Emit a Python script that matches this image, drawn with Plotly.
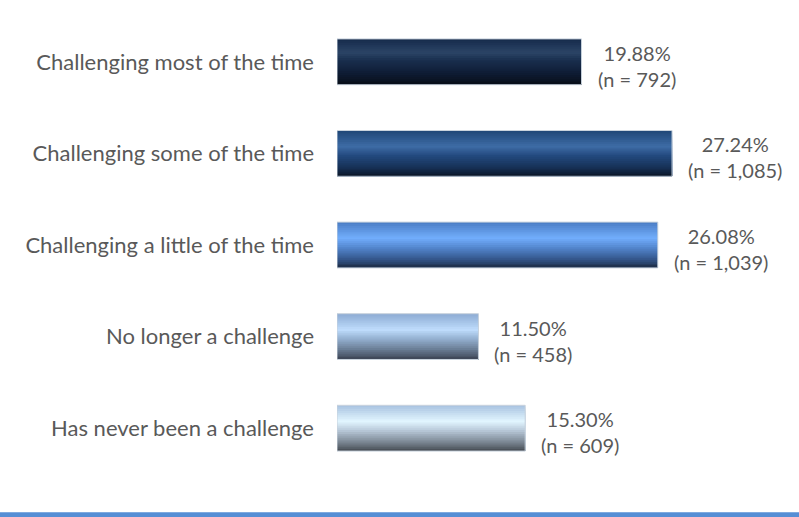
import plotly.graph_objects as go

# data
categories = [
    "Challenging most of the time",
    "Challenging some of the time",
    "Challenging a little of the time",
    "No longer a challenge",
    "Has never been a challenge",
]
percent = [19.88, 27.24, 26.08, 11.50, 15.30]
counts = [792, 1085, 1039, 458, 609]

# vertical gradient for each bar: (position from top, colour)
gradients = [
    [(0, "#152A4A"), (0.3, "#2C4566"), (0.45, "#1A3050"), (0.75, "#0E1C34"), (1.0, "#080E18")],
    [(0, "#1E4676"), (0.35, "#3E6CA6"), (0.55, "#23497E"), (0.8, "#173258"), (1.0, "#0B1628")],
    [(0, "#4A7CC4"), (0.35, "#72AEFC"), (0.55, "#5588D0"), (0.8, "#35598E"), (1.0, "#1E2E48")],
    [(0, "#8CAAD2"), (0.35, "#BFDCFC"), (0.55, "#94B0D0"), (0.8, "#66788F"), (1.0, "#3C4454")],
    [(0, "#A8C2E0"), (0.35, "#E2F6FF"), (0.55, "#B8C8D8"), (0.8, "#7C8894"), (1.0, "#454B52")],
]

FONT = "Lato, Calibri, sans-serif"
TEXT_COLOR = "#595959"
BAR_W = 0.5
N_STRIPS = 24


def hex_to_rgb(h):
    h = h.lstrip("#")
    return tuple(int(h[i:i + 2], 16) for i in (0, 2, 4))


def color_at(stops, t):
    for (p0, c0), (p1, c1) in zip(stops, stops[1:]):
        if p0 <= t <= p1:
            f = (t - p0) / (p1 - p0) if p1 > p0 else 0
            a, b = hex_to_rgb(c0), hex_to_rgb(c1)
            r = [round(a[k] + (b[k] - a[k]) * f) for k in range(3)]
            return "rgb({},{},{})".format(*r)
    return stops[-1][1]


fig = go.Figure()

# glossy gradient: each strip runs from its own top edge down to the bar bottom,
# later strips paint over earlier ones so there are no seams
strip = BAR_W / N_STRIPS
for i in range(N_STRIPS):
    t = (i + 0.5) / N_STRIPS
    fig.add_trace(go.Bar(
        x=percent, y=categories, orientation="h",
        width=BAR_W - i * strip, offset=-BAR_W / 2 + i * strip,
        marker=dict(color=[color_at(g, t) for g in gradients], line=dict(width=0)),
        hoverinfo="skip", showlegend=False,
    ))

# thin light outline
fig.add_trace(go.Bar(
    x=percent, y=categories, orientation="h",
    width=BAR_W, offset=-BAR_W / 2,
    marker=dict(color="rgba(0,0,0,0)", line=dict(color="#C8D2DC", width=1)),
    hoverinfo="skip", showlegend=False,
))

# two-line value labels to the right of each bar
for cat, p, n in zip(categories, percent, counts):
    fig.add_annotation(x=p, y=cat, text=f"{p:.2f}%<br>(n = {n:,})", showarrow=False,
                       xanchor="left", align="center", xshift=14, yshift=-4,
                       font=dict(family=FONT, size=20, color=TEXT_COLOR))

# blue rule along the bottom of the page
fig.add_shape(type="rect", xref="paper", yref="paper",
              x0=-1.5, x1=1.5, y0=-0.101, y1=-0.0836,
              fillcolor="#558ED5", line=dict(width=0))

fig.update_layout(
    width=799, height=517,
    margin=dict(l=337, r=93, t=16, b=43),
    barmode="overlay",
    paper_bgcolor="white", plot_bgcolor="white",
    font=dict(family=FONT, size=20, color=TEXT_COLOR),
    xaxis=dict(range=[0, 30], visible=False),
    yaxis=dict(autorange="reversed", showgrid=False, zeroline=False,
               showline=False, ticks="", ticklabelstandoff=22,
               tickfont=dict(family=FONT, size=22, color=TEXT_COLOR)),
)

fig.write_html("out.html", config={"displayModeBar": False},
               post_script="document.body.style.margin='0';")
